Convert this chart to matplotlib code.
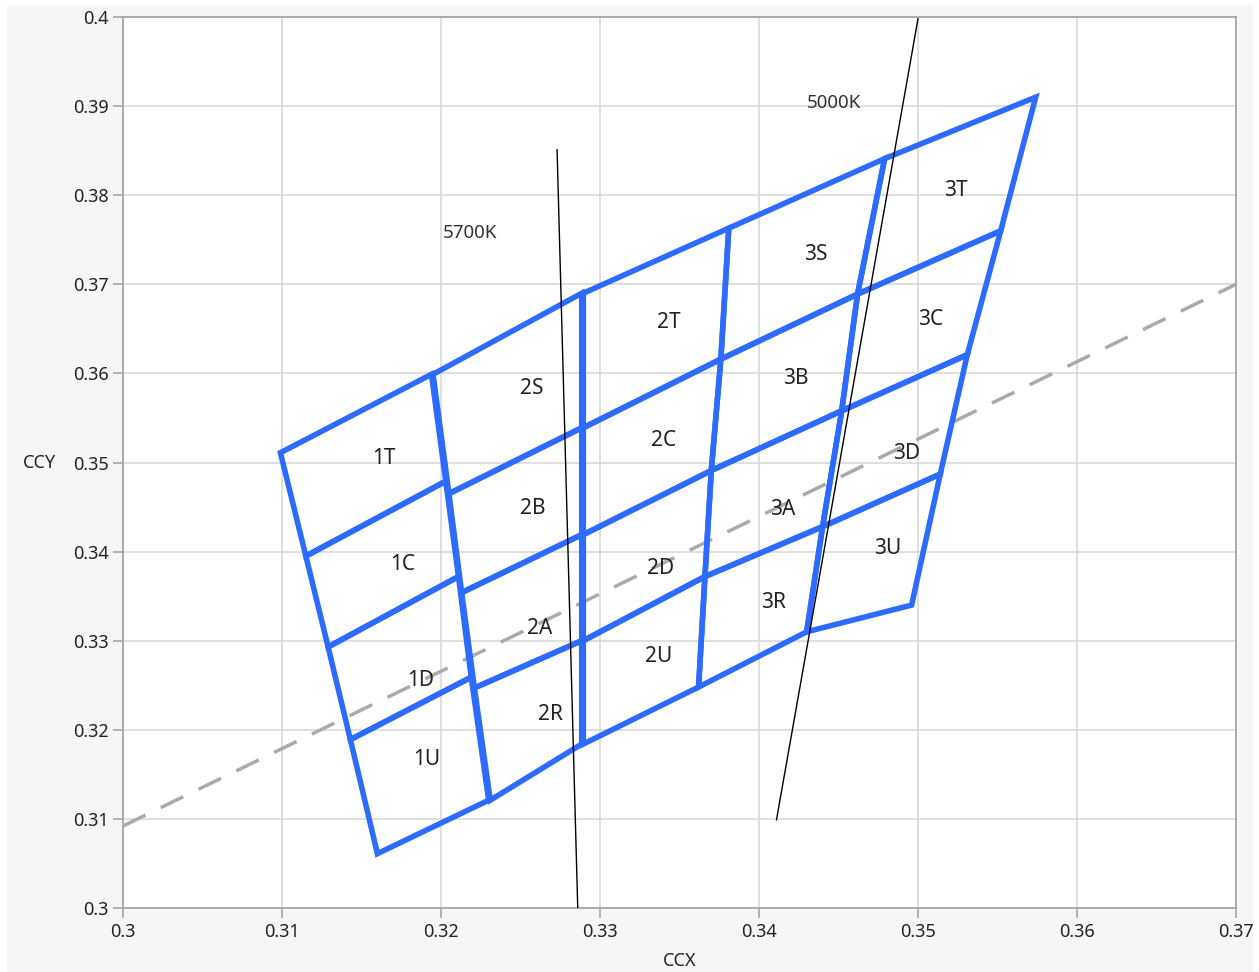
import matplotlib
matplotlib.use('Agg')
import matplotlib.pyplot as plt
from matplotlib.patches import Polygon, Rectangle

plt.rcParams['font.family'] = ['Noto Sans', 'DejaVu Sans']

# bin outlines: corners in order top-left, top-right, bottom-right, bottom-left
bin_names = ['1T', '1C', '1D', '1U',
             '2S', '2B', '2A', '2R',
             '2T', '2C', '2D', '2U',
             '3S', '3B', '3A', '3R',
             '3T', '3C', '3D', '3U']
bin_x = [[0.3099, 0.3194, 0.3203, 0.3115],
         [0.3115, 0.3203, 0.3211, 0.3129],
         [0.3129, 0.3211, 0.3219, 0.3143],
         [0.3143, 0.3219, 0.3230, 0.3160],
         [0.3195, 0.32885, 0.32885, 0.3205],
         [0.3205, 0.32885, 0.32885, 0.3213],
         [0.3213, 0.32885, 0.32885, 0.3221],
         [0.3221, 0.32885, 0.32885, 0.3231],
         [0.32895, 0.3381, 0.3376, 0.32895],
         [0.32895, 0.3376, 0.3370, 0.32895],
         [0.32895, 0.3370, 0.3366, 0.32895],
         [0.32895, 0.3366, 0.3362, 0.32895],
         [0.3381, 0.3479, 0.3462, 0.3376],
         [0.3376, 0.3462, 0.3452, 0.3370],
         [0.3370, 0.3452, 0.3440, 0.3366],
         [0.3366, 0.3440, 0.3430, 0.3362],
         [0.3479, 0.3574, 0.3552, 0.3462],
         [0.3462, 0.3552, 0.3531, 0.3452],
         [0.3452, 0.3531, 0.3514, 0.3440],
         [0.3440, 0.3514, 0.3496, 0.3430]]
bin_y = [[0.3511, 0.3599, 0.3479, 0.3395],
         [0.3395, 0.3479, 0.3372, 0.3293],
         [0.3293, 0.3372, 0.3259, 0.3189],
         [0.3189, 0.3259, 0.3121, 0.3061],
         [0.3599, 0.3690, 0.3539, 0.3465],
         [0.3465, 0.3539, 0.3419, 0.3354],
         [0.3354, 0.3419, 0.3300, 0.3247],
         [0.3247, 0.3300, 0.3184, 0.3121],
         [0.3690, 0.3763, 0.3616, 0.3539],
         [0.3539, 0.3616, 0.3491, 0.3419],
         [0.3419, 0.3491, 0.3372, 0.3300],
         [0.3300, 0.3372, 0.3248, 0.3184],
         [0.3763, 0.3841, 0.3689, 0.3616],
         [0.3616, 0.3689, 0.3558, 0.3491],
         [0.3491, 0.3558, 0.3428, 0.3372],
         [0.3372, 0.3428, 0.3310, 0.3248],
         [0.3841, 0.3910, 0.3760, 0.3689],
         [0.3689, 0.3760, 0.3621, 0.3558],
         [0.3558, 0.3621, 0.3487, 0.3428],
         [0.3428, 0.3487, 0.3340, 0.3310]]
label_x = [0.3164, 0.3176, 0.3187, 0.3191,
           0.3257, 0.3258, 0.3262, 0.3269,
           0.3343, 0.3340, 0.3338, 0.3337,
           0.3436, 0.3423, 0.3415, 0.3409,
           0.3524, 0.3508, 0.3493, 0.3481]
label_y = [0.3505, 0.3385, 0.3255, 0.3167,
           0.3583, 0.3448, 0.3314, 0.3217,
           0.3657, 0.3525, 0.3381, 0.3282,
           0.3734, 0.3594, 0.3447, 0.3343,
           0.3805, 0.3661, 0.3510, 0.3404]

# isotherms (CCT lines)
cct_names = ['5700K', '5000K']
cct_x = [[0.3273, 0.3286], [0.3411, 0.3500]]
cct_y = [[0.3851, 0.3000], [0.3099, 0.3998]]
cct_label_x = [0.3201, 0.3430]
cct_label_y = [0.3758, 0.3904]

# blackbody reference (dashed)
locus_x = [0.30, 0.37]
locus_y = [0.3092, 0.3700]

blue = '#2d6bff'

fig = plt.figure(figsize=(12.59, 9.72), dpi=100, facecolor='white')
bg = Rectangle((7 / 1259, 0), 1245 / 1259, 967 / 972, transform=fig.transFigure,
               color='#f6f6f6', zorder=-10)
fig.patches.append(bg)
ax = fig.add_axes([123 / 1259, 1 - 908 / 972, 1113 / 1259, 891 / 972])
ax.set_facecolor('white')

ax.plot(locus_x, locus_y, color='#aaaaaa', lw=2.5, dashes=[7.2, 4.9], zorder=2)

for i in range(len(cct_names)):
    ax.plot(cct_x[i], cct_y[i], color='black', lw=1.0, zorder=4)
    ax.text(cct_label_x[i], cct_label_y[i], cct_names[i], fontsize=13.5,
            color='#333333', ha='left', va='center', zorder=5)

for i in range(len(bin_names)):
    poly = Polygon(list(zip(bin_x[i], bin_y[i])), closed=True, fill=False,
                   edgecolor=blue, lw=4, joinstyle='miter', zorder=3)
    ax.add_patch(poly)
    ax.text(label_x[i], label_y[i], bin_names[i], fontsize=15, color='#222222',
            ha='center', va='center', zorder=5)

ax.set_xlim(0.3, 0.37)
ax.set_ylim(0.3, 0.4)
xt = [0.3, 0.31, 0.32, 0.33, 0.34, 0.35, 0.36, 0.37]
yt = [0.3, 0.31, 0.32, 0.33, 0.34, 0.35, 0.36, 0.37, 0.38, 0.39, 0.4]
ax.set_xticks(xt)
ax.set_xticklabels(['%g' % v for v in xt])
ax.set_yticks(yt)
ax.set_yticklabels(['%g' % v for v in yt])
ax.grid(True, color='#d9d9d9', lw=1.2, zorder=0)
ax.set_axisbelow(True)
for s in ax.spines.values():
    s.set_color('#a6a6a6')
    s.set_linewidth(1.3)
ax.tick_params(direction='out', length=7, width=1.2, color='#a6a6a6',
               labelsize=13, labelcolor='#222222', pad=3.5)

ax.set_xlabel('CCX', fontsize=13, color='#222222')
ax.set_ylabel('CCY', fontsize=13, color='#222222', rotation=0,
              ha='center', va='center')
ax.xaxis.set_label_coords(0.5, -0.049)
ax.yaxis.set_label_coords(-0.0746, 0.5)

fig.savefig('out.png', dpi=100, facecolor=fig.get_facecolor())
